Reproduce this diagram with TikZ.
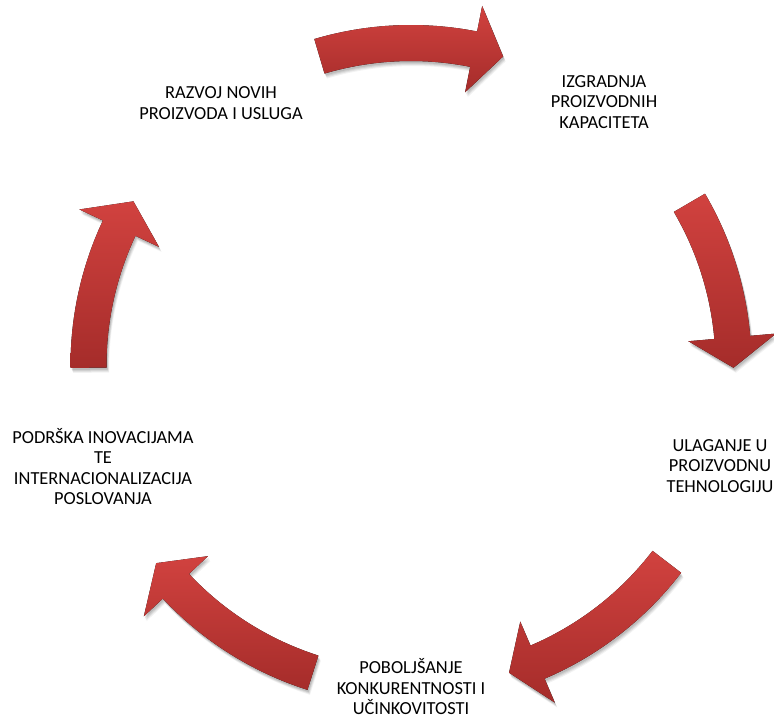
\documentclass[tikz,border=0pt]{standalone}
\usepackage{fontspec}
\setmainfont{Carlito}
\definecolor{arrtop}{RGB}{209,66,63}
\definecolor{arrbot}{RGB}{165,44,42}
\tikzset{
  lbl/.style={align=center, inner sep=0pt, text=black, font=\fontsize{18.4}{20.5}\selectfont},
  arrowfill/.style={top color=arrtop, bottom color=arrbot, draw=none},
}
% #1 tail angle, #2 head-base angle, #3 tip angle
\newcommand\arrowshape[3]{([shift={(411pt,-365.5pt)}]#1:340.5pt) arc[start angle=#1, end angle=#2, radius=340.5pt]
  -- ([shift={(411pt,-365.5pt)}]#2:366.5pt) -- ([shift={(411pt,-365.5pt)}]#3:322.5pt)
  -- ([shift={(411pt,-365.5pt)}]#2:278.5pt) -- ([shift={(411pt,-365.5pt)}]#2:304.5pt)
  arc[start angle=#2, end angle=#1, radius=304.5pt] -- cycle}
\newcommand\cyclearrow[2]{%
  \pgfmathsetmacro\hb{#2+5.4}%
  \foreach \sx/\sy/\op in {2.5/-5/0.05, 2/-4/0.07, 1.5/-3/0.08, 1/-2/0.09}{%
    \fill[fill=black, opacity=\op, shift={(\sx pt,\sy pt)}] \arrowshape{#1}{\hb}{#2};
  }%
  \fill[arrowfill] \arrowshape{#1}{\hb}{#2};
}
\begin{document}
\begin{tikzpicture}
\useasboundingbox (0,0) rectangle (774pt,-720pt);
\cyclearrow{106.5}{73.4}
\cyclearrow{30.3}{-0.4}
\cyclearrow{-37.5}{-72.3}
\cyclearrow{-107.7}{-142.2}
\cyclearrow{180.4}{149.4}
\node[lbl] (n1) at (221pt,-103pt) {RAZVOJ NOVIH\\PROIZVODA I USLUGA};
\node[lbl] (n2) at (604pt,-102pt) {IZGRADNJA\\PROIZVODNIH\\KAPACITETA};
\node[lbl] (n3) at (720pt,-466pt) {ULAGANJE U\\PROIZVODNU\\TEHNOLOGIJU};
\node[lbl] (n4) at (411pt,-687pt) {POBOLJŠANJE\\KONKURENTNOSTI I\\UČINKOVITOSTI};
\node[lbl] (n5) at (103pt,-466.5pt) {PODRŠKA INOVACIJAMA\\TE\\INTERNACIONALIZACIJA\\POSLOVANJA};
\end{tikzpicture}
\end{document}
